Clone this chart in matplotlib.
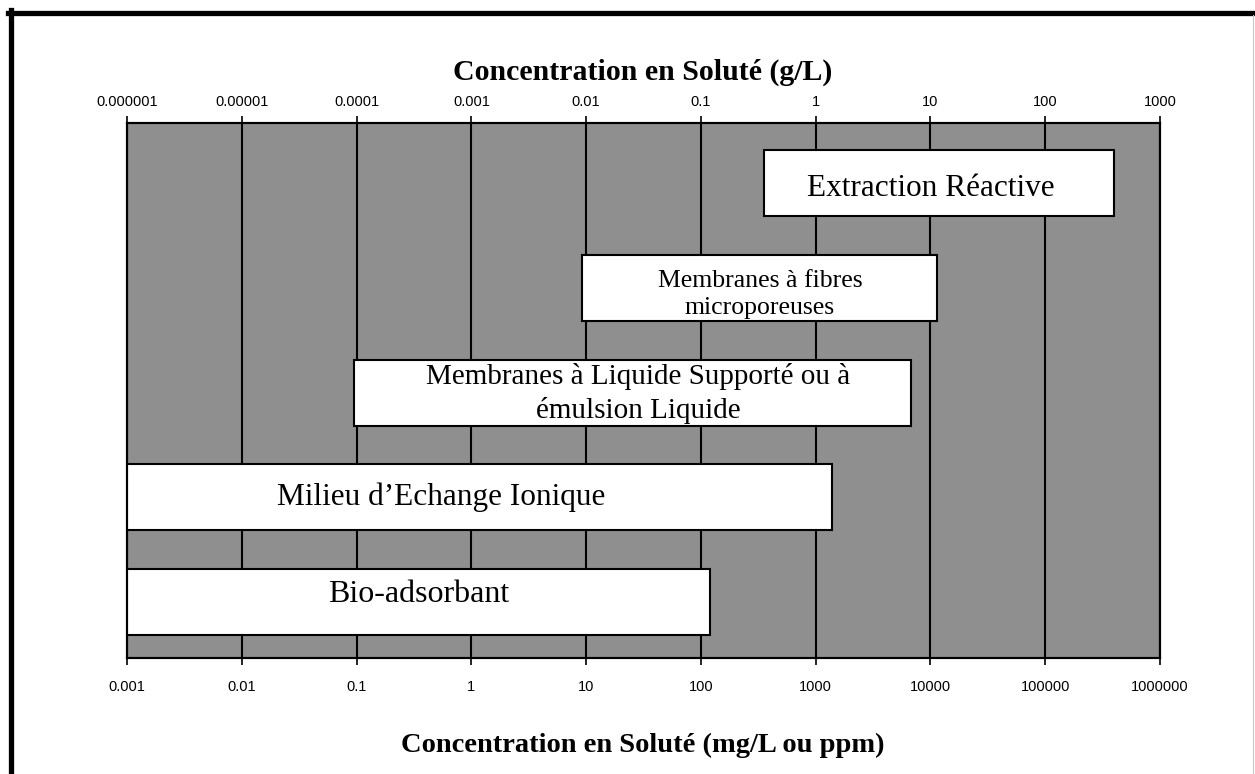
import numpy as np
import matplotlib
matplotlib.use("Agg")
import matplotlib.pyplot as plt
from matplotlib.patches import Rectangle
from matplotlib.lines import Line2D

# bornes des procedes en mg/L
procedes = ["Extraction Réactive",
            "Membranes à fibres\nmicroporeuses",
            "Membranes à Liquide Supporté ou à\némulsion Liquide",
            "Milieu d\u2019Echange Ionique",
            "Bio-adsorbant"]
conc_min = [357, 9.3, 0.095, 0.001, 0.001]
conc_max = [3.95e5, 1.15e4, 6.8e3, 1.4e3, 121]

ticks_mg = [1e-3, 1e-2, 1e-1, 1, 10, 100, 1e3, 1e4, 1e5, 1e6]
labels_mg = ["0.001", "0.01", "0.1", "1", "10", "100", "1000", "10000",
             "100000", "1000000"]
ticks_g = [1e-6, 1e-5, 1e-4, 1e-3, 1e-2, 1e-1, 1, 10, 100, 1000]
labels_g = ["0.000001", "0.00001", "0.0001", "0.001", "0.01", "0.1", "1",
            "10", "100", "1000"]

GRIS = "#8f8f8f"
SERIF = "Liberation Serif"
SANS = "Liberation Sans"

fig = plt.figure(figsize=(12.55, 7.74), dpi=100)
ax = fig.add_axes([127/1255, 116/774, 1033/1255, 535/774])
ax.set_facecolor(GRIS)
ax.set_xscale("log")
ax.set_xlim(1e-3, 1e6)
ax.set_ylim(5.107, 0)
ax.set_axisbelow(True)
ax.grid(True, which="major", axis="x", color="k", lw=1.5)
ax.set_yticks([])
ax.set_xticks(ticks_mg)
ax.set_xticklabels(labels_mg, fontfamily=SANS, fontsize=10.5)
ax.minorticks_off()
ax.tick_params(axis="x", direction="out", length=5, width=1.2, pad=11)
for s in ax.spines.values():
    s.set_linewidth(1.5)

ax2 = ax.twiny()
ax2.set_xscale("log")
ax2.set_xlim(1e-6, 1e3)
ax2.set_xticks(ticks_g)
ax2.set_xticklabels(labels_g, fontfamily=SANS, fontsize=10.5)
ax2.minorticks_off()
ax2.tick_params(axis="x", direction="out", length=5, width=1.2, pad=5)
for s in ax2.spines.values():
    s.set_linewidth(1.5)

# boites des procedes
h = 0.63
tailles = [22.5, 18.5, 21, 22.5, 23]
decal_y = [0.05, 0.06, 0.01, 0.0, -0.07]
decal_x = [-0.07, 0.0, 0.05, -0.34, 0.0]  # en decades
for i, (nom, lo, hi) in enumerate(zip(procedes, conc_min, conc_max)):
    yc = 0.573 + i
    ax.add_patch(Rectangle((lo, yc - h/2), hi - lo, h, facecolor="white",
                           edgecolor="k", lw=1.5, zorder=3))
    xc = 10 ** ((np.log10(lo) + np.log10(hi)) / 2 + decal_x[i])
    ax.text(xc, yc + decal_y[i], nom, ha="center", va="center",
            fontfamily=SERIF, fontsize=tailles[i], linespacing=1.3, zorder=4)

fig.text(643/1255, 1 - 72/774, "Concentration en Soluté (g/L)", ha="center",
         va="center", fontfamily=SERIF, fontweight="bold", fontsize=21.5)
fig.text(643/1255, 1 - 745/774, "Concentration en Soluté (mg/L ou ppm)",
         ha="center", va="center", fontfamily=SERIF, fontweight="bold",
         fontsize=20.5)

# cadre exterieur
fig.add_artist(Line2D([8/1255, 1], [1 - 12.5/774] * 2, color="k", lw=3.8))
fig.add_artist(Line2D([10.5/1255] * 2, [0, 1 - 10/774], color="k", lw=3.8))
fig.add_artist(Line2D([1253/1255] * 2, [0, 1 - 15/774], color="#c8c8c8", lw=0.8))

fig.savefig("out.png", dpi=100)
